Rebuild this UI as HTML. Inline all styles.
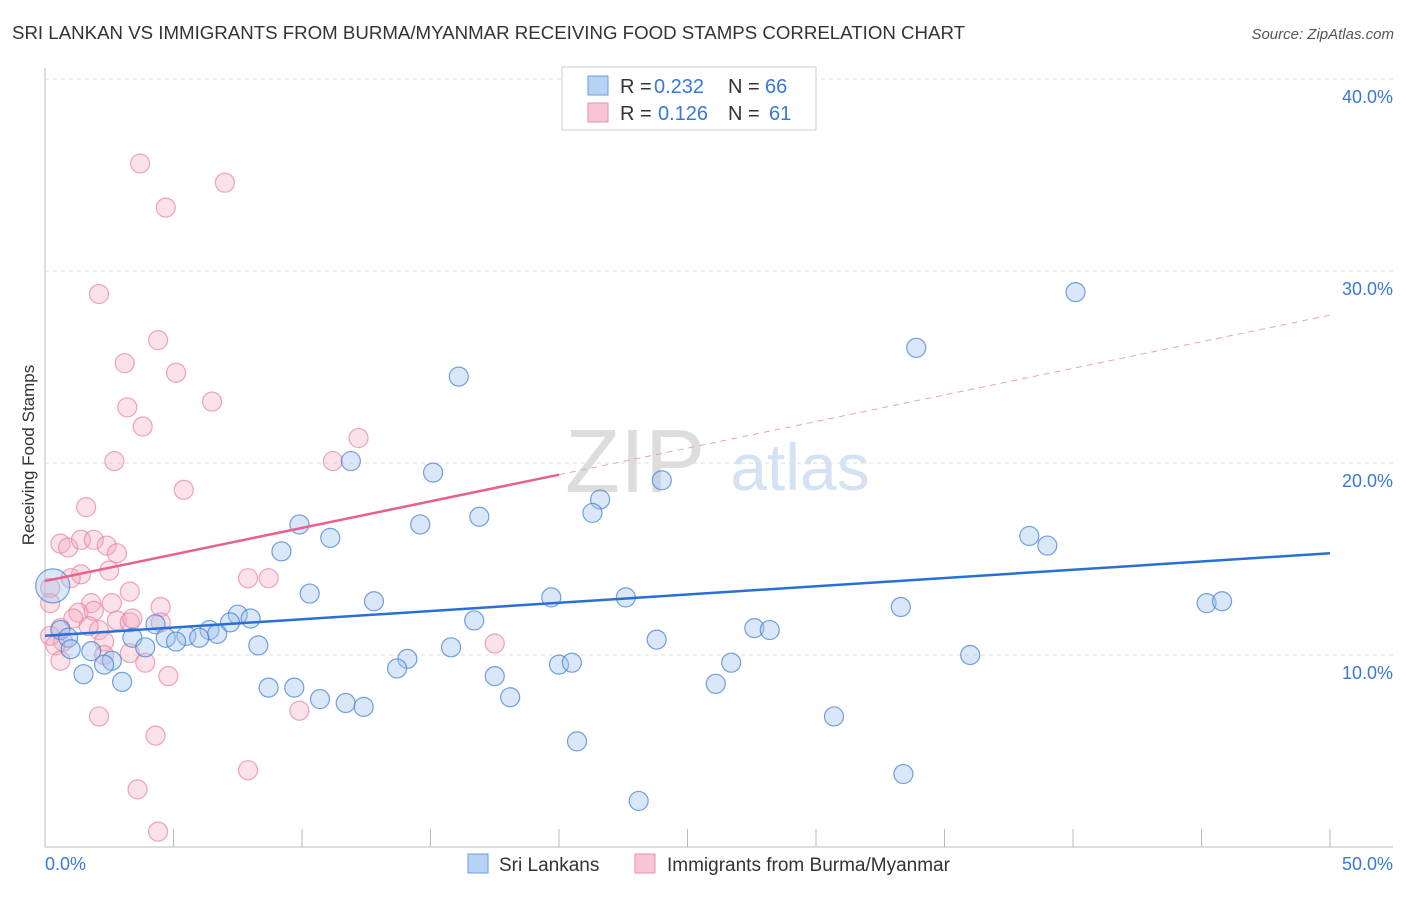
<!DOCTYPE html>
<html><head><meta charset="utf-8"><style>
body{margin:0;background:#fff;font-family:"Liberation Sans",sans-serif;}
svg text{font-family:"Liberation Sans",sans-serif;}
</style></head><body>
<svg id="chart" width="1406" height="892">
<text x="12" y="39" font-size="18" fill="#333" textLength="953" lengthAdjust="spacingAndGlyphs">SRI LANKAN VS IMMIGRANTS FROM BURMA/MYANMAR RECEIVING FOOD STAMPS CORRELATION CHART</text>
<text x="1394" y="39" font-size="15" fill="#555" font-style="italic" text-anchor="end">Source: ZipAtlas.com</text>
<text x="635" y="492" font-size="90" fill="#ddd" font-family="Liberation Serif" text-anchor="middle">ZIP</text>
<text x="800" y="490" font-size="66" fill="#d4e2f4" text-anchor="middle">atlas</text>
<text x="34" y="455" font-size="17" fill="#333" text-anchor="middle" transform="rotate(-90 34 455)">Receiving Food Stamps</text>
<g id="grid"></g><g id="pts"></g><g id="lines"></g>
<g>
<rect x="562" y="67" width="254" height="63" fill="#fff" stroke="#ccc"/>
<rect x="588" y="76" width="20" height="19" fill="#b8d2f5" stroke="#6a9ee0"/>
<rect x="588" y="103" width="20" height="19" fill="#f8c6d3" stroke="#e890aa"/>
<text y="93" font-size="20" fill="#333"><tspan x="620">R =</tspan><tspan x="654" fill="#3a78d6">0.232</tspan><tspan x="728">N =</tspan><tspan x="765" fill="#3a78d6">66</tspan></text>
<text y="120" font-size="20" fill="#333"><tspan x="620">R =</tspan><tspan x="658" fill="#3a78d6">0.126</tspan><tspan x="728">N =</tspan><tspan x="769" fill="#3a78d6">61</tspan></text>
</g>
<g>
<rect x="468" y="854" width="20" height="19" fill="#b8d2f5" stroke="#6a9ee0"/>
<text x="499" y="871" font-size="19" fill="#333">Sri Lankans</text>
<rect x="635" y="854" width="20" height="19" fill="#f8c6d3" stroke="#e890aa"/>
<text x="667" y="871" font-size="19" fill="#333">Immigrants from Burma/Myanmar</text>
</g>
<text x="45" y="870" font-size="18" fill="#3a78d6">0.0%</text>
<text x="1393" y="870" font-size="18" fill="#3a78d6" text-anchor="end">50.0%</text>
</svg>
<script>
const blueX=[40.1,33.9,16.1,11.9,15.1,24.0,21.6,21.3,16.9,9.9,14.6,11.1,9.2,38.3,39.0,10.3,12.8,19.7,22.6,33.3,45.2,45.8,16.7,7.5,8.0,7.2,4.3,6.4,6.7,5.5,4.7,6.0,5.1,3.4,3.9,0.6,0.9,1.0,1.8,8.3,23.8,27.6,28.2,15.8,14.1,13.7,2.6,2.3,20.0,20.5,26.7,36.0,1.5,3.0,8.7,9.7,17.5,26.1,10.7,11.7,12.4,18.1,30.7,20.7,33.4,23.1];
const blueY=[28.9,26.0,24.5,20.1,19.5,19.1,18.1,17.4,17.2,16.8,16.8,16.1,15.4,16.2,15.7,13.2,12.8,13.0,13.0,12.5,12.7,12.8,11.8,12.1,11.9,11.7,11.6,11.3,11.1,11.0,10.9,10.9,10.7,10.9,10.4,11.3,10.9,10.3,10.2,10.5,10.8,11.4,11.3,10.4,9.8,9.3,9.7,9.5,9.5,9.6,9.6,10.0,9.0,8.6,8.3,8.3,8.9,8.5,7.7,7.5,7.3,7.8,6.8,5.5,3.8,2.4];
const pinkX=[3.7,7.0,4.7,2.1,4.4,3.1,5.1,6.5,3.2,3.8,12.2,11.2,2.7,5.4,1.6,0.6,0.9,1.4,1.9,2.4,2.8,2.5,1.4,1.0,7.9,8.7,0.2,3.3,1.8,2.6,4.5,0.2,1.3,1.9,1.1,2.8,3.3,4.5,3.4,2.1,1.7,0.6,0.2,2.3,0.7,0.4,17.5,2.3,3.3,3.9,0.6,4.8,9.9,2.1,4.3,7.9,3.6,4.4];
const pinkY=[35.6,34.6,33.3,28.8,26.4,25.2,24.7,23.2,22.9,21.9,21.3,20.1,20.1,18.6,17.7,15.8,15.6,16.0,16.0,15.7,15.3,14.4,14.2,14.0,14.0,14.0,13.5,13.3,12.7,12.7,12.5,12.7,12.2,12.3,11.9,11.8,11.7,11.7,11.9,11.3,11.5,11.4,11.0,10.7,10.7,10.5,10.6,10.0,10.1,9.6,9.7,8.9,7.1,6.8,5.8,4.0,3.0,0.8];
const yTicks=[10,20,30,40];
const blueTrend=[11.0,15.3];
const pinkTrend=[13.85,27.7];
const NS="http://www.w3.org/2000/svg";
const xs=v=>45+v*25.7, ys=v=>847-v*19.2;
function mk(tag,attrs,parent){const e=document.createElementNS(NS,tag);for(const k in attrs)e.setAttribute(k,attrs[k]);parent.appendChild(e);return e;}
const grid=document.getElementById('grid'),pts=document.getElementById('pts'),lines=document.getElementById('lines');
yTicks.forEach(t=>{
 const l=mk('line',{x1:45,x2:1393,y1:ys(t),y2:ys(t),stroke:'#ddd','stroke-dasharray':'4 4'},grid);
 
 
 const tx=mk('text',{x:1393,y:ys(t)+24,'font-size':18,fill:'#3a78d6','text-anchor':'end'},grid);
 tx.textContent=t.toFixed(1)+'%';
 
 
});
mk('line',{x1:45,x2:45,y1:68,y2:847,stroke:'#bbb'},grid);
mk('line',{x1:45,x2:1393,y1:847,y2:847,stroke:'#bbb'},grid);
for(let i=1;i<=10;i++){const t=mk('line',{x1:xs(i*5),x2:xs(i*5),y1:829,y2:847,stroke:'#bbb'},grid);
 
 }
pinkX.forEach((x,i)=>{const c=mk('circle',{cx:xs(x),cy:ys(pinkY[i]),r:9.5,fill:'rgba(244,170,190,0.35)',stroke:'rgba(230,130,160,0.7)','stroke-width':1.2},pts);
 
 });
blueX.forEach((x,i)=>{const c=mk('circle',{cx:xs(x),cy:ys(blueY[i]),r:9.5,fill:'rgba(160,195,240,0.4)',stroke:'rgba(70,130,215,0.75)','stroke-width':1.2},pts);
 
 });
const big=mk('circle',{cx:xs(0.3),cy:ys(13.6),r:17,fill:'rgba(160,195,240,0.4)',stroke:'rgba(70,130,215,0.75)','stroke-width':1.2},pts);


const bl=mk('line',{x1:xs(0),y1:ys(blueTrend[0]),x2:xs(50),y2:ys(blueTrend[1]),stroke:'#2a6fd6','stroke-width':2.5},lines);


const pm=v=>pinkTrend[0]+(pinkTrend[1]-pinkTrend[0])*v/50;
const pl=mk('line',{x1:xs(0),y1:ys(pm(0)),x2:xs(20),y2:ys(pm(20)),stroke:'#e8608c','stroke-width':2.5},lines);


const pd=mk('line',{x1:xs(20),y1:ys(pm(20)),x2:xs(50),y2:ys(pm(50)),stroke:'#eba0b8','stroke-width':1,'stroke-dasharray':'6 5'},lines);


</script>
</body></html>
